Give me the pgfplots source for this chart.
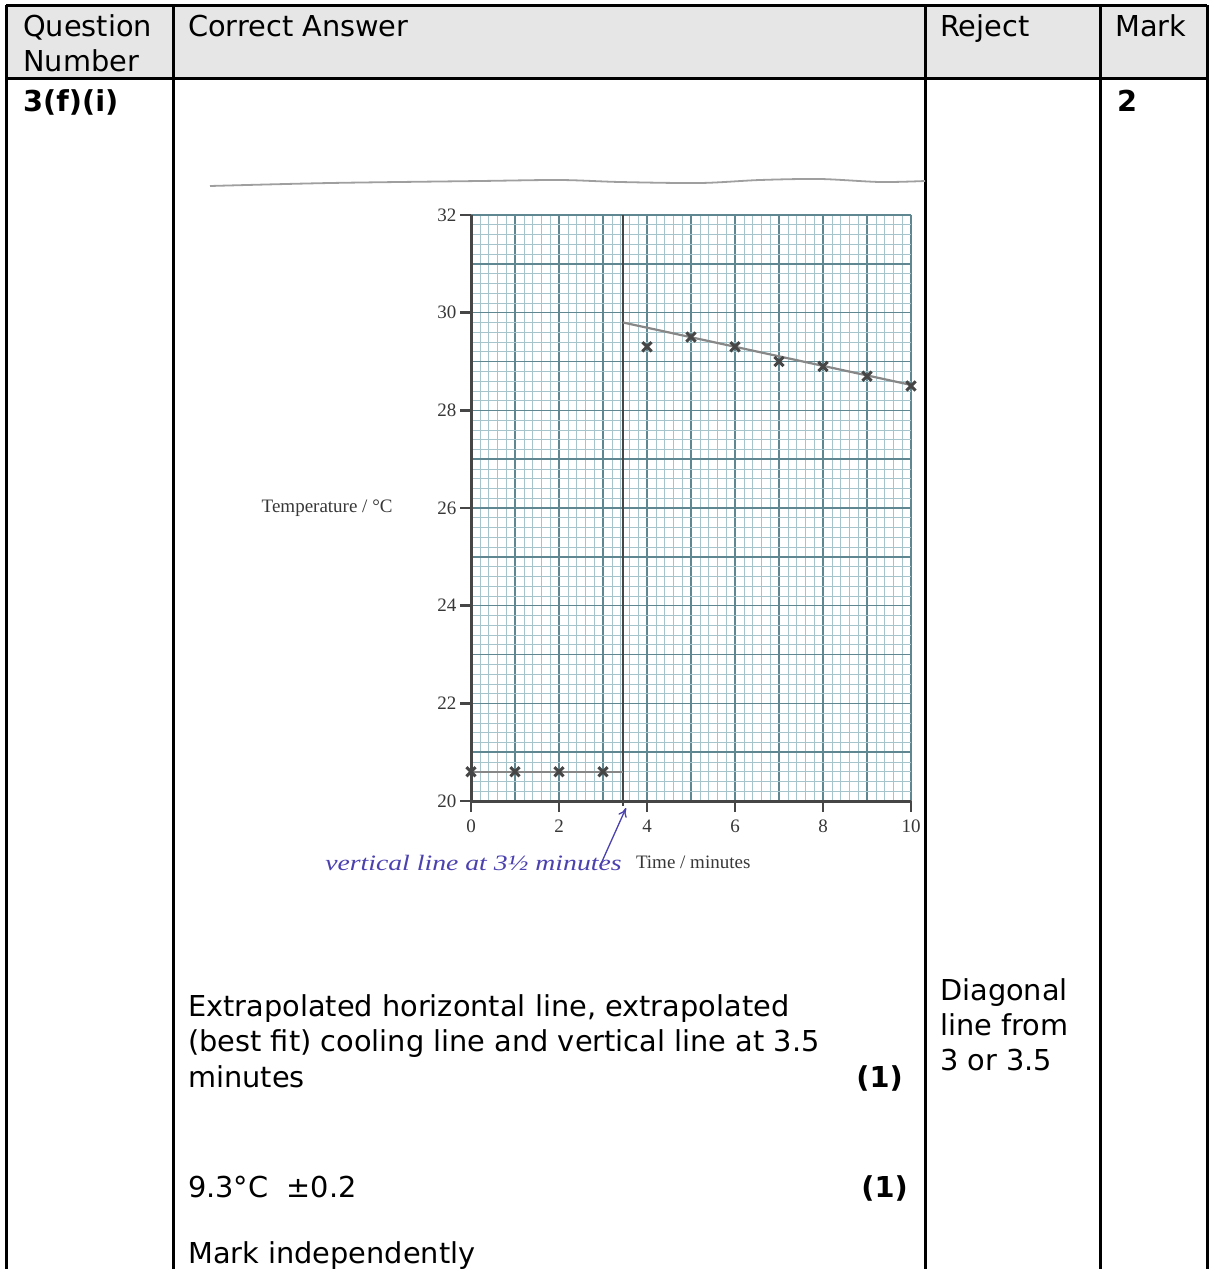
\documentclass[border=0pt]{standalone}
\usepackage{pgfplots}
\pgfplotsset{compat=1.18}
\usepackage{fontspec}
\setmainfont{DejaVu Sans}
\newfontfamily\timesf{Liberation Serif}
\usetikzlibrary{arrows.meta}
\definecolor{hdrgray}{RGB}{230,230,230}
\definecolor{gridmajor}{RGB}{95,135,145}
\definecolor{gridminor}{RGB}{165,196,203}
\definecolor{axgray}{RGB}{70,70,70}
\definecolor{labgray}{RGB}{55,55,55}
\definecolor{lgray}{RGB}{135,135,135}
\definecolor{markgray}{RGB}{70,70,70}
\definecolor{penblue}{RGB}{75,65,175}
\newcommand{\bodyfont}{\fontsize{28.8}{35}\selectfont}
\newcommand{\chartfont}{\timesf\fontsize{19}{20}\selectfont}
\begin{document}
\begin{tikzpicture}[x=1pt,y=1pt]
\useasboundingbox (0,0) rectangle (1210,-1269);
% header background
\fill[hdrgray] (6,-5) rectangle (1207,-78);
% table rules
\begin{scope}[line width=3pt, black]
\draw (6,-5) -- (1207,-5);
\draw (6,-78) -- (1207,-78);
\draw (6,-5) -- (6,-1272);
\draw (173,-5) -- (173,-1272);
\draw (925,-5) -- (925,-1272);
\draw (1100,-5) -- (1100,-1272);
\draw (1207,-5) -- (1207,-1272);
\end{scope}
% header text
\node[anchor=base west, inner sep=0pt] at (23,-36) {\bodyfont Question};
\node[anchor=base west, inner sep=0pt] at (23,-71) {\bodyfont Number};
\node[anchor=base west, inner sep=0pt] at (188,-36) {\bodyfont Correct Answer};
\node[anchor=base west, inner sep=0pt] at (940,-36) {\bodyfont Reject};
\node[anchor=base west, inner sep=0pt] at (1115,-36) {\bodyfont Mark};
\node[anchor=base west, inner sep=0pt] at (23,-111) {\bodyfont\bfseries 3(f)(i)};
\node[anchor=base west, inner sep=0pt] at (1117,-111) {\bodyfont\bfseries 2};
% body text
\node[anchor=base west, inner sep=0pt] at (188,-1016) {\bodyfont Extrapolated horizontal line, extrapolated};
\node[anchor=base west, inner sep=0pt] at (188,-1051) {\bodyfont (best fit) cooling line and vertical line at 3.5};
\node[anchor=base west, inner sep=0pt] at (188,-1087) {\bodyfont minutes};
\node[anchor=base east, inner sep=0pt] at (903,-1087) {\bodyfont\bfseries (1)};
\node[anchor=base west, inner sep=0pt] at (188,-1197) {\bodyfont 9.3°C\ \ ±0.2};
\node[anchor=base east, inner sep=0pt] at (908,-1197) {\bodyfont\bfseries (1)};
\node[anchor=base west, inner sep=0pt] at (188,-1263) {\bodyfont Mark independently};
\node[anchor=base west, inner sep=0pt] at (940,-1000) {\bodyfont Diagonal};
\node[anchor=base west, inner sep=0pt] at (940,-1035) {\bodyfont line from};
\node[anchor=base west, inner sep=0pt] at (940,-1070) {\bodyfont 3 or 3.5};
% scanned paper edge
\draw[lgray!80, line width=1.8pt] plot[smooth] coordinates {(210,-186) (330,-183) (480,-181) (560,-180) (620,-182) (700,-183) (760,-180) (820,-179) (880,-182) (925,-181)};
% graph paper grid
\begin{axis}[
  at={(471pt,-801pt)}, anchor=south west, scale only axis,
  width=440pt, height=586pt,
  xmin=0, xmax=10, ymin=20, ymax=32,
  xtick={0,...,10}, ytick={20,...,32},
  minor tick num=4, grid=both,
  xticklabels={}, yticklabels={},
  major tick length=0pt, minor tick length=0pt,
  axis line style={draw=none},
  major grid style={draw=gridmajor, line width=1.4pt},
  minor grid style={draw=gridminor, line width=0.6pt},
]
\end{axis}
% data axis
\begin{axis}[
  at={(471pt,-801pt)}, anchor=south west, scale only axis,
  width=440pt, height=586pt,
  xmin=0, xmax=10, ymin=20, ymax=32,
  axis x line*=bottom, axis y line*=left,
  axis line style={draw=axgray, line width=3pt, -},
  xtick={0,2,...,10}, ytick={20,22,...,32},
  tick align=outside, major tick length=11pt,
  tick style={draw=axgray, line width=2.6pt},
  /pgf/number format/assume math mode=true,
  ticklabel style={font=\chartfont, text=labgray},
  xticklabel style={yshift=-4pt},
  xlabel={Time / minutes}, ylabel={Temperature / °C},
  label style={font=\chartfont, text=labgray},
  xlabel style={at={(axis description cs:0.505,-0.104)}, anchor=center},
  ylabel style={at={(axis description cs:-0.327,0.5)}, anchor=center, rotate=-90},
  clip=false,
]
\addplot[draw=axgray, line width=2.5pt] coordinates {(3.45,19.9) (3.45,32)};
\addplot[draw=lgray, line width=2.2pt] coordinates {(0,20.6) (3.45,20.6)};
\addplot[draw=lgray, line width=2.2pt] coordinates {(3.45,29.8) (10,28.52)};
\addplot[only marks, mark=x, mark size=6.5pt, mark options={line width=3pt, draw=markgray}] coordinates {
(0,20.6) (1,20.6) (2,20.6) (3,20.6)
(4,29.3) (5,29.5) (6,29.3) (7,29.0) (8,28.9) (9,28.7) (10,28.5)};
\end{axis}
% handwritten annotation
\node[anchor=base west, inner sep=0pt, text=penblue, transform shape, xscale=1.26] at (325,-870) {\timesf\itshape\fontsize{22}{24}\selectfont vertical line at 3½ minutes};
\draw[penblue, line width=1.3pt, -{To[length=9pt,width=9pt]}] (600,-866) -- (626,-808);
\end{tikzpicture}
\end{document}
